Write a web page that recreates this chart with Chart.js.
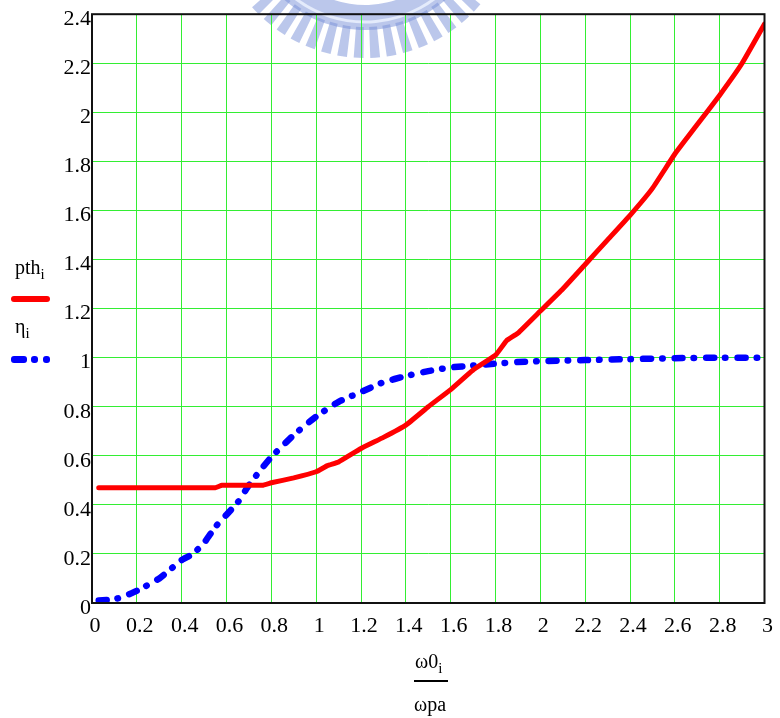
<!DOCTYPE html>
<html>
<head>
<meta charset="utf-8">
<script src="https://cdn.jsdelivr.net/npm/chart.js@4.4.1/dist/chart.umd.min.js"></script>
<style>
  body { margin: 0; background: #fff; }
  #wrap { position: relative; width: 780px; height: 718px; font-family: "Liberation Serif", "Times New Roman", serif; color: #000; }
  #thresholdChart { position: absolute; left: 0; top: 0; }
  .txt { position: absolute; font-size: 20px; line-height: 1; white-space: nowrap; }
  .txt sub { font-size: 15px; vertical-align: -5px; }
  .swatch { position: absolute; height: 6px; border-radius: 3px; }
</style>
</head>
<body>
<div id="wrap">
  <canvas id="thresholdChart" width="780" height="718"></canvas>

  <div class="txt" style="left:15px; top:257px;">pth<sub>i</sub></div>
  <div class="swatch" style="left:11px; top:296px; width:39px; background:#ff0000;"></div>
  <div class="txt" style="left:15px; top:316px;">η<sub>i</sub></div>
  <div class="swatch" style="left:11px; top:356px; width:16px; height:7px; background:#0000ff;"></div>
  <div class="swatch" style="left:31px; top:356px; width:7px; height:7px; background:#0000ff;"></div>
  <div class="swatch" style="left:43px; top:356px; width:7px; height:7px; background:#0000ff;"></div>

  <div class="txt" style="left:415px; top:651px;">ω0<sub>i</sub></div>
  <div style="position:absolute; left:414px; top:680px; width:34px; height:2px; background:#000;"></div>
  <div class="txt" style="left:414px; top:694px;">ωpa</div>
</div>

<script>
// pth_i curve
var pthX = [0.03, 0.2, 0.4, 0.55, 0.58, 0.7, 0.76, 0.8, 0.9, 1.0, 1.05, 1.1, 1.2, 1.3, 1.4, 1.5, 1.6, 1.7, 1.8, 1.85, 1.9, 2.0, 2.1, 2.2, 2.3, 2.4, 2.5, 2.6, 2.7, 2.8, 2.9, 3.0];
var pthY = [0.47, 0.47, 0.47, 0.47, 0.48, 0.48, 0.48, 0.49, 0.51, 0.535, 0.56, 0.575, 0.63, 0.675, 0.725, 0.80, 0.87, 0.95, 1.01, 1.07, 1.10, 1.19, 1.28, 1.38, 1.48, 1.58, 1.69, 1.83, 1.95, 2.07, 2.20, 2.36];

// eta_i curve
var etaX = [0.03, 0.1, 0.15, 0.2, 0.3, 0.4, 0.45, 0.5, 0.55, 0.6, 0.65, 0.7, 0.75, 0.8, 0.9, 1.0, 1.1, 1.2, 1.3, 1.4, 1.5, 1.6, 1.7, 1.8, 1.9, 2.0, 2.2, 2.4, 2.6, 2.8, 3.0];
var etaY = [0.01, 0.015, 0.03, 0.05, 0.10, 0.175, 0.20, 0.245, 0.31, 0.36, 0.41, 0.48, 0.54, 0.595, 0.685, 0.76, 0.82, 0.86, 0.90, 0.925, 0.945, 0.96, 0.968, 0.976, 0.982, 0.986, 0.99, 0.994, 0.998, 1.0, 1.0];

var xTicks = [0, 0.2, 0.4, 0.6, 0.8, 1, 1.2, 1.4, 1.6, 1.8, 2, 2.2, 2.4, 2.6, 2.8, 3];
var yTicks = [0, 0.2, 0.4, 0.6, 0.8, 1, 1.2, 1.4, 1.6, 1.8, 2, 2.2, 2.4];

function toPoints(xs, ys) {
    return xs.map(function (x, i) { return { x: x, y: ys[i] }; });
}

function fmt(v) {
    return String(Number(v.toFixed(1)));
}

// faint logo behind the plot, then the box around the plot area
var decorations = {
    id: 'decorations',
    beforeDraw: function (chart) {
        var ctx = chart.ctx;
        var cx = 365, cy = -93;
        ctx.save();
        ctx.globalAlpha = 0.5;
        ctx.fillStyle = '#7890d8';
        ctx.beginPath();
        ctx.arc(cx, cy, 123, Math.PI * 0.2, Math.PI * 0.8);
        ctx.arc(cx, cy, 98, Math.PI * 0.8, Math.PI * 0.2, true);
        ctx.closePath();
        ctx.fill();
        var start = Math.PI * 0.5 - 0.87, end = Math.PI * 0.5 + 0.87;
        for (var a = start; a <= end; a += 0.11) {
            ctx.beginPath();
            ctx.arc(cx, cy, 151, a, a + 0.065);
            ctx.arc(cx, cy, 120, a + 0.065, a, true);
            ctx.closePath();
            ctx.fill();
        }
        ctx.globalAlpha = 1;
        ctx.strokeStyle = '#e4ebfb';
        ctx.lineWidth = 3;
        ctx.beginPath();
        ctx.arc(cx, cy, 115, Math.PI * 0.22, Math.PI * 0.78);
        ctx.stroke();
        ctx.restore();
    },
    afterDatasetsDraw: function (chart) {
        var a = chart.chartArea, ctx = chart.ctx;
        ctx.save();
        ctx.strokeStyle = '#111';
        ctx.lineWidth = 2;
        ctx.strokeRect(a.left, a.top, a.right - a.left, a.bottom - a.top);
        ctx.restore();
    }
};

var tickFont = { family: '"Liberation Serif", "Times New Roman", serif', size: 22 };

new Chart(document.getElementById('thresholdChart'), {
    type: 'line',
    data: {
        datasets: [
            {
                label: 'pth',
                data: toPoints(pthX, pthY),
                borderColor: '#ff0000',
                borderWidth: 5,
                borderCapStyle: 'round',
                borderJoinStyle: 'round',
                pointRadius: 0,
                tension: 0.1
            },
            {
                label: 'η',
                data: toPoints(etaX, etaY),
                borderColor: '#0000ff',
                borderWidth: 6.5,
                borderDash: [8, 11, 0.5, 12],
                borderCapStyle: 'round',
                borderJoinStyle: 'round',
                pointRadius: 0,
                tension: 0.15
            }
        ]
    },
    options: {
        responsive: false,
        animation: false,
        layout: { padding: { top: 14, right: 12, left: 0, bottom: 0 } },
        plugins: { legend: { display: false }, tooltip: { enabled: false } },
        scales: {
            x: {
                type: 'linear',
                min: 0,
                max: 3,
                afterBuildTicks: function (s) { s.ticks = xTicks.map(function (v) { return { value: v }; }); },
                afterFit: function (s) { s.height = 115; },
                grid: { color: '#33ee33', lineWidth: 1, drawTicks: false },
                border: { display: false },
                ticks: {
                    font: tickFont,
                    color: '#000',
                    padding: 10,
                    labelOffset: 3,
                    maxRotation: 0,
                    autoSkip: false,
                    callback: fmt
                }
            },
            y: {
                type: 'linear',
                min: 0,
                max: 2.4,
                afterBuildTicks: function (s) { s.ticks = yTicks.map(function (v) { return { value: v }; }); },
                afterFit: function (s) { s.width = 92; },
                grid: { color: '#33ee33', lineWidth: 1, drawTicks: false },
                border: { display: false },
                ticks: {
                    font: tickFont,
                    color: '#000',
                    padding: 1,
                    labelOffset: 5,
                    autoSkip: false,
                    callback: fmt
                }
            }
        }
    },
    plugins: [decorations]
});
</script>
</body>
</html>
